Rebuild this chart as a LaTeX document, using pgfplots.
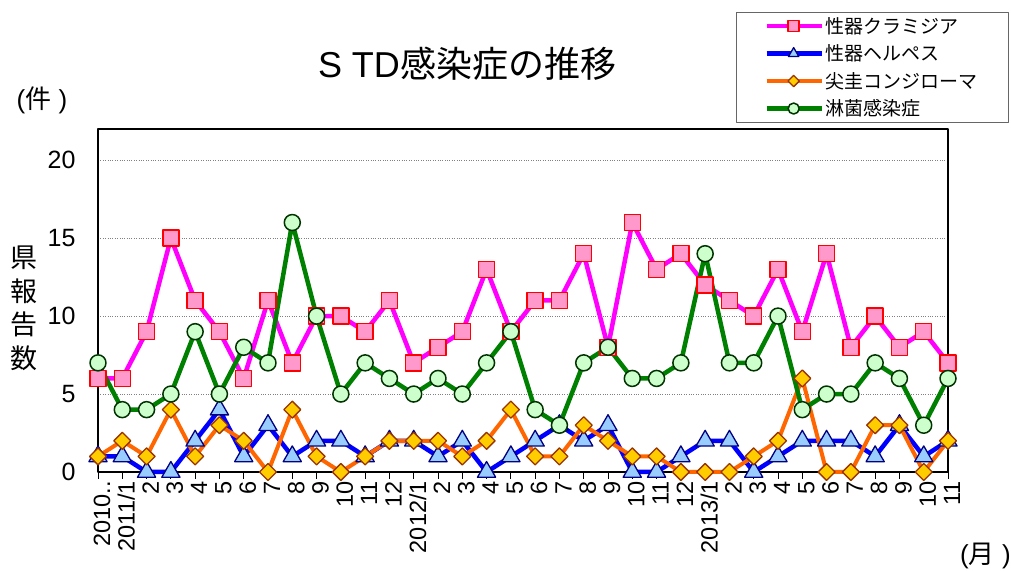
\documentclass[border=0pt]{standalone}
\usepackage{fontspec}
\setmainfont{Liberation Sans}
\newfontfamily\jp{Noto Sans CJK JP}
\usepackage{pgfplots}
\usepackage{pgfplotstable}
\pgfplotsset{compat=1.18}
\definecolor{chlLine}{HTML}{FF00FF}
\definecolor{chlFill}{HTML}{FF99CC}
\definecolor{chlDraw}{HTML}{FF0000}
\definecolor{herLine}{HTML}{0000FF}
\definecolor{herFill}{HTML}{99CCFF}
\definecolor{herDraw}{HTML}{000080}
\definecolor{conLine}{HTML}{FF6600}
\definecolor{conFill}{HTML}{FFCC00}
\definecolor{conDraw}{HTML}{993300}
\definecolor{gonLine}{HTML}{008000}
\definecolor{gonFill}{HTML}{CCFFCC}
\definecolor{gonDraw}{HTML}{003300}
\pgfplotstableread{
x chl her con gon
0 6 1 1 7
1 6 1 2 4
2 9 0 1 4
3 15 0 4 5
4 11 2 1 9
5 9 4 3 5
6 6 1 2 8
7 11 3 0 7
8 7 1 4 16
9 10 2 1 10
10 10 2 0 5
11 9 1 1 7
12 11 2 2 6
13 7 2 2 5
14 8 1 2 6
15 9 2 1 5
16 13 0 2 7
17 9 1 4 9
18 11 2 1 4
19 11 3 1 3
20 14 2 3 7
21 8 3 2 8
22 16 0 1 6
23 13 0 1 6
24 14 1 0 7
25 12 2 0 14
26 11 2 0 7
27 10 0 1 7
28 13 1 2 10
29 9 2 6 4
30 14 2 0 5
31 8 2 0 5
32 10 1 3 7
33 8 3 3 6
34 9 1 0 3
35 7 2 2 6
}\data
\begin{document}
\begin{tikzpicture}[x=1bp,y=1bp]
\useasboundingbox (0,0) rectangle (1011,571);
\begin{axis}[
  at={(98bp,99bp)}, anchor=south west,
  scale only axis, width=850bp, height=343bp,
  xmin=0, xmax=35, ymin=0, ymax=22,
  clip=false,
  axis line style={line width=2.5bp, black},
  xtick={0,...,35},
  xticklabels={2010..,2011/1,2,3,4,5,6,7,8,9,10,11,12,2012/1,2,3,4,5,6,7,8,9,10,11,12,2013/1,2,3,4,5,6,7,8,9,10,11},
  xtick pos=left, tick align=outside,
  major tick length=7bp,
  xtick style={line width=0.8bp, black},
  ytick={0,5,10,15,20},
  ytick style={draw=none},
  ymajorgrids, grid style={gray, dotted, line width=1bp},
  /pgf/number format/assume math mode=true,
  xticklabel style={rotate=90, anchor=east, font=\fontsize{23.5bp}{23.5bp}\selectfont, inner sep=2bp, yshift=-4bp},
  yticklabel style={font=\fontsize{25bp}{25bp}\selectfont, xshift=-12bp},
  legend style={at={(0.7506,1.341)}, anchor=north west, draw=gray!80!black, line width=0.8bp,
    font=\jp\fontsize{19bp}{23bp}\selectfont, inner xsep=28bp, inner ysep=3bp,
    row sep=6bp, cells={anchor=west}},
  legend image code/.code={\draw[mark repeat=2, mark phase=2, #1] plot coordinates {(0bp,0bp) (27bp,0bp) (55bp,0bp)};},
  line join=round,
]
\addplot[color=chlLine, line width=4.5bp, mark=square*, mark size=8bp,
  mark options={fill=chlFill, draw=chlDraw, line width=1.5bp},
  legend image post style={mark size=5.5bp}] table[x=x,y=chl]{\data};
\addlegendentry{性器クラミジア}
\addplot[color=herLine, line width=4.5bp, mark=triangle*, mark size=10.5bp,
  mark options={fill=herFill, draw=herDraw, line width=1.3bp},
  legend image post style={mark size=6bp}] table[x=x,y=her]{\data};
\addlegendentry{性器ヘルペス}
\addplot[color=conLine, line width=4bp, mark=square*, mark size=6bp,
  mark options={fill=conFill, draw=conDraw, line width=1.3bp, rotate=45},
  legend image post style={mark size=4bp}] table[x=x,y=con]{\data};
\addlegendentry{尖圭コンジローマ}
\addplot[color=gonLine, line width=4.5bp, mark=*, mark size=8bp,
  mark options={fill=gonFill, draw=gonDraw, line width=1.5bp},
  legend image post style={mark size=5.5bp}] table[x=x,y=gon]{\data};
\addlegendentry{淋菌感染症}
\end{axis}
\node[font=\fontsize{36bp}{36bp}\selectfont, inner sep=0] at (467,507) {S TD{\jp 感染症の推移}};
\node[font=\fontsize{26bp}{26bp}\selectfont, inner sep=0] at (42,471) {({\jp 件} )};
\node[font=\jp\fontsize{27bp}{33.5bp}\selectfont, align=center, inner sep=0] at (24,262.5) {県\\報\\告\\数};
\node[font=\fontsize{26bp}{26bp}\selectfont, inner sep=0, anchor=west] at (960,15) {({\jp 月} )};
\end{tikzpicture}
\end{document}
